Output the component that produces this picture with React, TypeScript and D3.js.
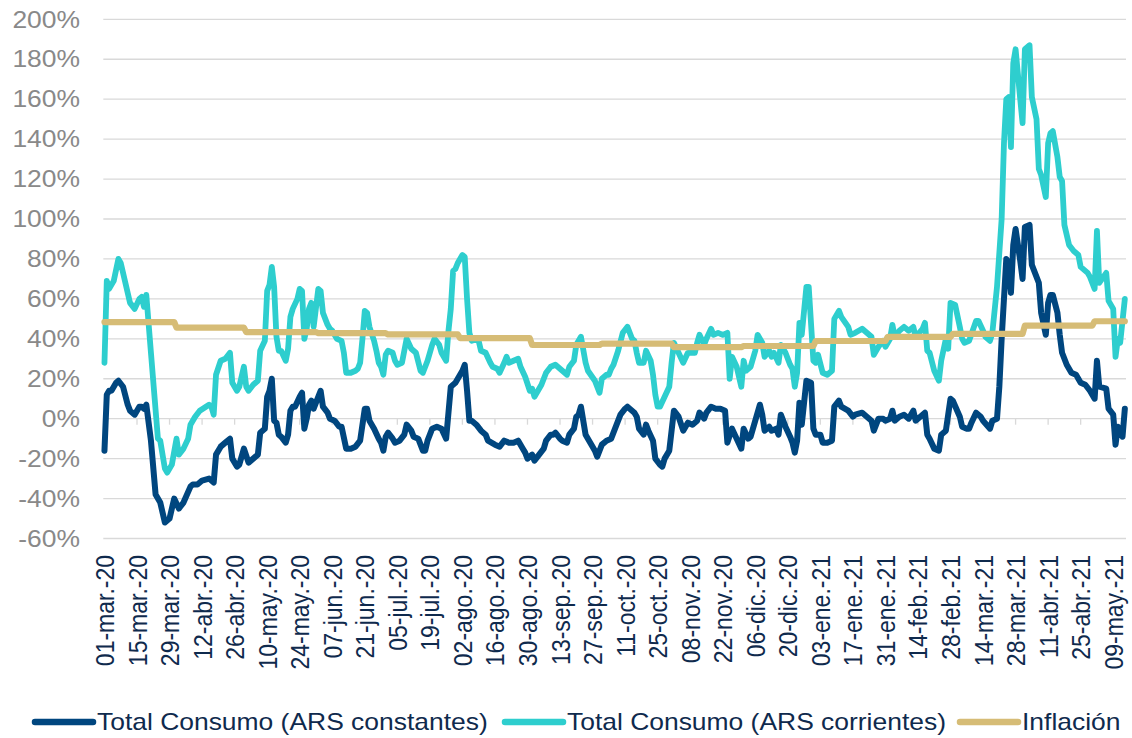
import React from 'react';
import * as d3 from 'd3';

// Día 0 = 01-mar-2020; datos diarios hasta 13-may-2021 (día 439)
const BASE = Date.UTC(2020, 2, 1);
const DAY = 86400000;
const FIN_DIA = 439;

const mesesES = ['ene', 'feb', 'mar', 'abr', 'may', 'jun', 'jul', 'ago', 'sep', 'oct', 'nov', 'dic'];

const etiquetasX = [
  '01-mar.-20', '15-mar.-20', '29-mar.-20', '12-abr.-20', '26-abr.-20', '10-may.-20', '24-may.-20',
  '07-jun.-20', '21-jun.-20', '05-jul.-20', '19-jul.-20', '02-ago.-20', '16-ago.-20', '30-ago.-20',
  '13-sep.-20', '27-sep.-20', '11-oct.-20', '25-oct.-20', '08-nov.-20', '22-nov.-20', '06-dic.-20',
  '20-dic.-20', '03-ene.-21', '17-ene.-21', '31-ene.-21', '14-feb.-21', '28-feb.-21', '14-mar.-21',
  '28-mar.-21', '11-abr.-21', '25-abr.-21', '09-may.-21',
];

const ticksY = [-60, -40, -20, 0, 20, 40, 60, 80, 100, 120, 140, 160, 180, 200];

// [día desde 01-mar-2020, variación % interanual]
const constantes: [number, number][] = [
  [0,-16],[1,12],[2,14],[3,14],[5,18],[6,19],[8,16],[10,7],[11,4],[13,2],[15,6],[16,6],[17,5],[18,7],[20,-11],[22,-38],[24,-42],[26,-52],[28,-50],[30,-40],[32,-45],[34,-42],[37,-34],[38,-33],[40,-33],[42,-31],[45,-30],[47,-32],[48,-18],[50,-14],[52,-12],[54,-10],[55,-20],[57,-24],[58,-23],[60,-15],[62,-22],[64,-20],[66,-18],[67,-7],[69,-5],[70,11],[71,14],[72,20],[73,-1],[74,-2],[75,-8],[76,-9],[78,-12],[79,-8],[80,4],[81,6],[82,6],[84,11],[85,13],[86,-5],[87,0],[88,7],[89,9],[90,5],[93,14],[94,6],[96,3],[97,0],[99,-1],[101,-4],[102,-4],[104,-15],[106,-15],[108,-14],[110,-11],[112,5],[113,5],[114,-1],[116,-5],[118,-10],[119,-12],[120,-16],[121,-9],[122,-7],[124,-10],[125,-12],[127,-11],[129,-8],[130,-3],[132,-6],[133,-9],[135,-10],[137,-16],[138,-16],[139,-11],[141,-5],[143,-4],[145,-5],[147,-10],[149,16],[151,18],[152,20],[154,24],[155,27],[156,14],[157,-1],[158,-1],[160,-3],[162,-6],[164,-8],[165,-11],[168,-13],[170,-14],[172,-11],[174,-12],[176,-12],[178,-11],[180,-15],[181,-17],[182,-20],[184,-18],[185,-21],[187,-18],[189,-15],[190,-11],[192,-8],[193,-8],[194,-7],[196,-10],[197,-11],[199,-12],[200,-8],[202,-5],[203,1],[204,2],[205,6],[207,-8],[209,-12],[211,-16],[212,-19],[214,-13],[216,-11],[218,-10],[219,-7],[221,-1],[222,2],[224,5],[225,6],[227,4],[228,3],[229,1],[230,-5],[232,-8],[233,-3],[234,-6],[236,-11],[237,-20],[239,-23],[240,-24],[241,-20],[243,-16],[244,-6],[245,4],[247,1],[249,-6],[251,-2],[253,-3],[255,-1],[256,3],[258,0],[259,3],[261,6],[263,5],[265,5],[267,4],[268,-12],[270,-5],[272,-10],[274,-15],[275,-5],[277,-10],[278,-9],[280,-1],[282,7],[283,2],[284,-6],[286,-4],[287,-6],[289,-5],[290,-8],[291,2],[293,-4],[295,-9],[296,-12],[297,-17],[298,-11],[299,8],[300,-3],[302,19],[304,18],[305,-5],[306,-8],[308,-8],[309,-12],[311,-12],[313,-11],[314,6],[316,9],[317,6],[320,4],[322,1],[323,2],[326,3],[328,1],[330,-1],[331,-6],[333,0],[335,0],[336,-1],[338,0],[339,4],[340,-1],[342,1],[344,2],[346,0],[348,4],[349,-1],[352,2],[353,3],[354,-8],[355,-10],[357,-15],[359,-16],[360,-8],[362,-6],[363,2],[364,10],[365,9],[368,1],[369,-4],[371,-5],[372,-5],[373,-2],[375,3],[377,1],[378,-1],[381,-5],[382,-1],[384,0],[385,16],[386,40],[388,80],[389,78],[390,63],[391,87],[392,95],[394,79],[395,70],[396,96],[398,97],[399,77],[402,68],[403,53],[405,42],[406,58],[407,62],[408,62],[410,53],[411,42],[412,33],[414,27],[416,23],[418,22],[420,18],[422,17],[424,14],[426,10],[427,29],[428,16],[431,15],[432,5],[434,2],[435,-13],[436,-4],[438,-9],[439,5],
];

const corrientes: [number, number][] = [
  [0,28],[1,69],[2,65],[4,69],[6,80],[7,78],[10,63],[11,58],[13,55],[15,60],[16,61],[17,56],[18,62],[20,33],[23,-10],[24,-11],[26,-25],[27,-27],[29,-23],[31,-10],[32,-18],[34,-15],[36,-10],[37,-3],[39,1],[41,4],[45,7],[46,6],[47,2],[48,22],[50,29],[52,30],[54,33],[55,18],[57,14],[58,16],[60,26],[61,16],[62,14],[64,17],[66,19],[67,34],[69,39],[70,64],[71,67],[72,76],[73,66],[74,41],[75,34],[76,34],[78,29],[79,35],[80,51],[81,55],[83,60],[84,65],[85,64],[86,40],[87,45],[88,55],[89,58],[90,46],[92,65],[93,64],[94,53],[96,47],[97,45],[98,44],[100,40],[102,39],[103,33],[104,23],[106,23],[108,24],[109,25],[110,28],[111,40],[112,54],[113,53],[114,46],[116,39],[117,34],[118,28],[119,26],[120,22],[121,32],[122,34],[124,33],[125,29],[126,27],[128,28],[129,34],[130,40],[132,35],[133,34],[134,33],[136,24],[137,23],[139,29],[141,37],[142,40],[144,37],[145,33],[147,29],[148,44],[149,55],[150,74],[151,75],[152,78],[154,82],[155,81],[156,60],[157,43],[158,39],[160,40],[161,39],[162,34],[164,33],[166,28],[167,26],[169,25],[170,23],[172,28],[173,31],[174,28],[176,29],[178,30],[179,26],[181,21],[183,14],[184,15],[185,11],[187,15],[188,17],[190,23],[192,26],[194,27],[195,26],[197,24],[199,22],[200,26],[202,29],[203,37],[205,41],[207,28],[208,24],[211,19],[213,13],[214,20],[216,22],[217,22],[218,25],[219,27],[221,34],[223,43],[225,46],[227,40],[228,39],[229,33],[230,28],[232,28],[233,34],[235,29],[236,22],[237,12],[238,6],[239,6],[241,11],[243,16],[244,28],[245,38],[247,33],[249,28],[251,33],[252,33],[254,33],[255,38],[256,42],[258,37],[259,40],[261,45],[262,42],[264,43],[266,42],[268,43],[269,20],[270,31],[272,26],[274,16],[275,29],[276,24],[278,26],[280,34],[281,42],[283,38],[284,31],[286,34],[287,31],[288,33],[290,28],[291,37],[293,33],[295,27],[296,25],[297,16],[298,23],[299,48],[300,42],[302,66],[303,66],[305,29],[306,28],[307,32],[309,23],[311,22],[313,24],[314,50],[316,54],[317,51],[320,46],[321,42],[323,43],[326,45],[328,43],[330,41],[331,32],[333,36],[335,39],[336,36],[338,40],[339,47],[340,41],[342,44],[344,46],[346,44],[348,46],[349,41],[352,45],[353,48],[354,34],[355,33],[357,24],[359,19],[360,29],[362,40],[363,35],[364,58],[366,57],[368,46],[369,40],[370,38],[372,39],[375,49],[376,49],[378,44],[379,41],[381,39],[382,43],[384,66],[386,100],[387,138],[388,160],[389,161],[390,136],[391,178],[392,185],[394,160],[395,148],[396,185],[398,187],[399,161],[401,150],[402,125],[403,122],[405,111],[406,138],[407,143],[408,144],[410,131],[411,121],[412,119],[413,97],[415,87],[417,84],[419,82],[420,76],[423,73],[424,71],[426,65],[427,94],[428,68],[431,73],[432,59],[434,55],[435,31],[436,40],[437,38],[439,60],
];

// Inflación interanual mensual
const inflacionMeses = ['2020-03', '2020-04', '2020-05', '2020-06', '2020-07', '2020-08', '2020-09', '2020-10', '2020-11', '2020-12', '2021-01', '2021-02', '2021-03', '2021-04', '2021-05'];
const inflacionValores = [48.4, 45.6, 43.3, 42.8, 42.2, 40.3, 36.9, 37.6, 35.8, 36.4, 38.9, 41.0, 42.5, 46.6, 48.8];

const nombresSeries = ['Total Consumo (ARS constantes)', 'Total Consumo (ARS corrientes)', 'Inflación'];
const coloresSeries = ['#00467f', '#2ecece', '#d6bc76'];
const grosorSeries = [6, 5.8, 6.2];

const FONT = '"Liberation Sans", Arial, sans-serif';
const SX = 1.15; // estiramiento horizontal del texto del original

const fecha = (d: number) => new Date(BASE + d * DAY);
const diaDeEtiqueta = (s: string) => {
  const [dd, mm, yy] = s.split('-');
  const m = mesesES.indexOf(mm.replace('.', ''));
  const dt = Date.UTC(2000 + Number(yy), m, Number(dd));
  return Math.round((dt - BASE) / DAY);
};

export default function App() {
  const W = 1132;
  const H = 738;
  const x = d3
    .scaleUtc()
    .domain([fecha(-0.5), fecha(FIN_DIA + 0.5)])
    .range([103.3, 1126]);
  const y = d3.scaleLinear().domain([-60, 200]).range([538.5, 19.3]);

  const linea = d3
    .line<[number, number]>()
    .x((p) => x(fecha(p[0])))
    .y((p) => y(p[1]));

  const inflPts: [number, number][] = [];
  const inicios = inflacionMeses.map((m) => {
    const [yy, mm] = m.split('-').map(Number);
    return Math.round((Date.UTC(yy, mm - 1, 1) - BASE) / DAY);
  });
  inicios.forEach((s, i) => {
    const e = i < inicios.length - 1 ? inicios[i + 1] - 1 : FIN_DIA;
    inflPts.push([s, inflacionValores[i]], [e, inflacionValores[i]]);
  });

  const datos = [constantes, corrientes, inflPts];
  const legendX = [35, 505, 960];
  const y0 = y(0);

  return (
    <svg
      width={W}
      height={H}
      style={{ position: 'absolute', left: 0, top: 0, background: '#fff' }}
      fontFamily={FONT}
    >
      <rect width={W} height={H} fill="#fff" />
      {ticksY.map((t) => (
        <line key={'g' + t} x1={103.3} x2={1126} y1={y(t)} y2={y(t)} stroke="#d9d9d9" strokeWidth={1.3} />
      ))}
      {etiquetasX.map((s) => {
        const xp = x(fecha(diaDeEtiqueta(s)));
        return <line key={'t' + s} x1={xp} x2={xp} y1={y0} y2={y0 + 6} stroke="#d9d9d9" strokeWidth={1.3} />;
      })}
      {ticksY.map((t) => (
        <text
          key={'l' + t}
          transform={`translate(80,${y(t) + 8.2}) scale(${SX},1)`}
          textAnchor="end"
          fontSize={23}
          fill="#898989"
        >
          {t + '%'}
        </text>
      ))}
      {etiquetasX.map((s) => {
        const xp = x(fecha(diaDeEtiqueta(s)));
        return (
          <text
            key={'x' + s}
            transform={`translate(${xp + 9.5},555) scale(${SX},1) rotate(-90)`}
            textAnchor="end"
            fontSize={23}
            fill="#0f2a4d"
          >
            {s}
          </text>
        );
      })}
      {datos.map((d, i) => (
        <path
          key={'s' + i}
          d={linea(d) || ''}
          fill="none"
          stroke={coloresSeries[i]}
          strokeWidth={grosorSeries[i]}
          strokeLinejoin="round"
          strokeLinecap="round"
        />
      ))}
      {nombresSeries.map((n, i) => (
        <g key={'leg' + i}>
          <line
            x1={legendX[i]}
            x2={legendX[i] + 58}
            y1={722}
            y2={722}
            stroke={coloresSeries[i]}
            strokeWidth={6.5}
            strokeLinecap="round"
          />
          <text transform={`translate(${legendX[i] + 62},729.5) scale(${SX},1)`} fontSize={23} fill="#0f2a4d">
            {n}
          </text>
        </g>
      ))}
    </svg>
  );
}
